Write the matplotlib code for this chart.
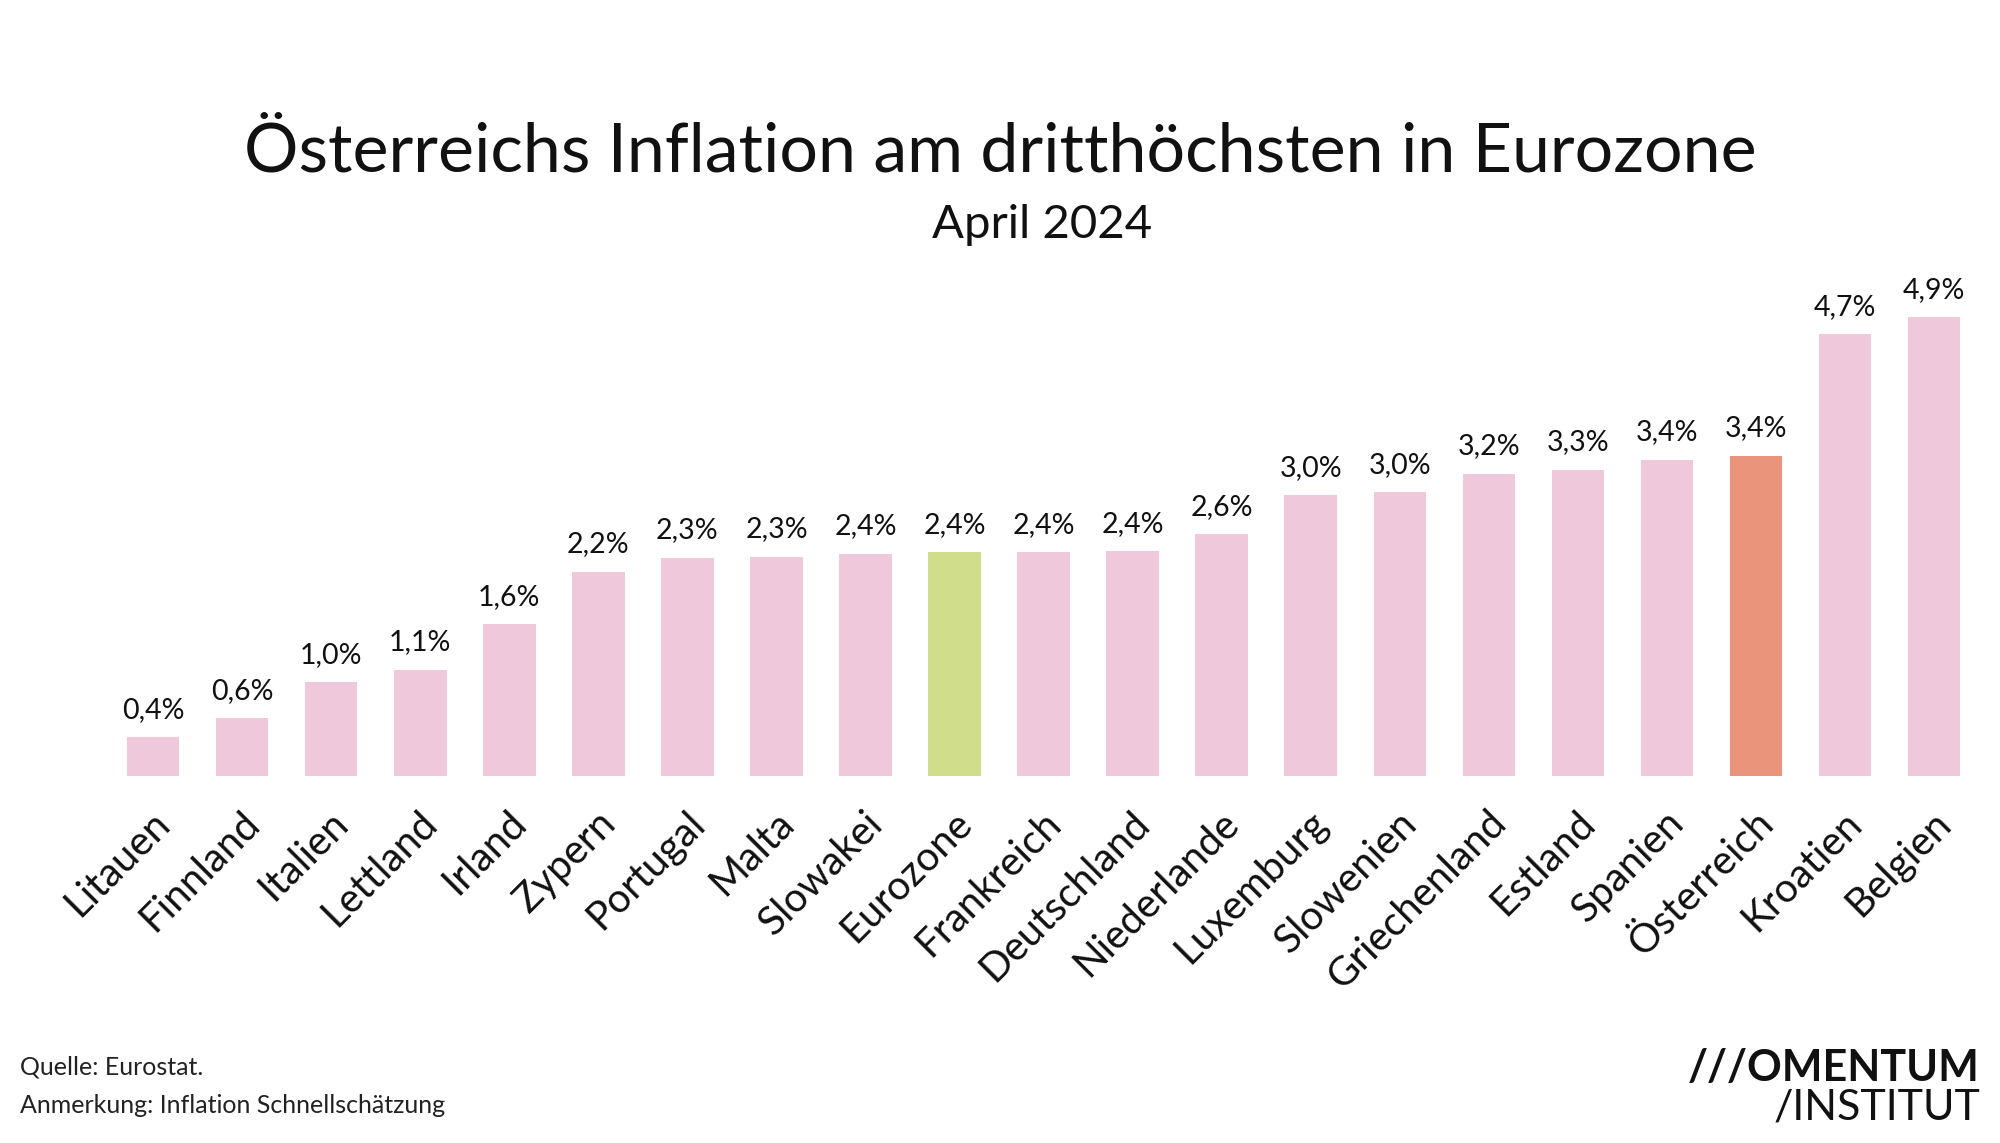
import matplotlib
matplotlib.use("Agg")
import matplotlib.pyplot as plt
from matplotlib.transforms import ScaledTranslation

plt.rcParams['font.family'] = ['Lato', 'DejaVu Sans']

countries = ["Litauen", "Finnland", "Italien", "Lettland", "Irland", "Zypern", "Portugal",
             "Malta", "Slowakei", "Eurozone", "Frankreich", "Deutschland", "Niederlande",
             "Luxemburg", "Slowenien", "Griechenland", "Estland", "Spanien", "Österreich",
             "Kroatien", "Belgien"]
inflation = [0.41, 0.61, 1.00, 1.13, 1.62, 2.18, 2.33, 2.34, 2.37, 2.39, 2.39, 2.40, 2.58,
             3.00, 3.03, 3.23, 3.27, 3.38, 3.42, 4.72, 4.90]
labels = ["0,4%", "0,6%", "1,0%", "1,1%", "1,6%", "2,2%", "2,3%", "2,3%", "2,4%", "2,4%",
          "2,4%", "2,4%", "2,6%", "3,0%", "3,0%", "3,2%", "3,3%", "3,4%", "3,4%", "4,7%", "4,9%"]

PINK = "#F0C8DC"
GREEN = "#D0DE8C"
SALMON = "#EA947C"
colors = [GREEN if c == "Eurozone" else SALMON if c == "Österreich" else PINK for c in countries]

fig = plt.figure(figsize=(20, 11.43), dpi=100)
ax = fig.add_axes([0.0543, 0.3215, 0.935, 0.409])
x = list(range(len(countries)))
ax.bar(x, inflation, width=0.59, color=colors)
ax.set_xlim(-0.5, len(countries) - 0.5)
ax.set_ylim(0, 5)
for s in ax.spines.values():
    s.set_visible(False)
ax.set_yticks([])
ax.set_xticks(x)
ax.set_xticklabels(countries, rotation=45, ha='right', va='center',
                   rotation_mode='anchor', fontsize=29, color='#111111')
ax.tick_params(axis='x', length=0, pad=30)
off = ScaledTranslation(8 / 72, 0, fig.dpi_scale_trans)
for lab in ax.get_xticklabels():
    lab.set_transform(lab.get_transform() + off)

for xi, v, t in zip(x, inflation, labels):
    ax.annotate(t, (xi, v), xytext=(0, 14), textcoords='offset points',
                ha='center', va='baseline', fontsize=20.5, color='#111111')

fig.text(0.5, 0.85, "Österreichs Inflation am dritthöchsten in Eurozone",
         ha='center', va='baseline', fontsize=49, color='#111111')
fig.text(0.521, 0.792, "April 2024", ha='center', va='baseline', fontsize=34,
         fontweight='normal', color='#111111')

fig.text(0.01, 0.0595, "Quelle: Eurostat.", ha='left', va='baseline', fontsize=18,
         fontweight='normal', color='#222222')
fig.text(0.01, 0.0265, "Anmerkung: Inflation Schnellschätzung", ha='left', va='baseline',
         fontsize=18, fontweight='normal', color='#222222')

fig.text(0.99, 0.054, "///OMENTUM", ha='right', va='baseline', fontsize=31,
         fontweight='bold', color='#111111')
fig.text(0.99, 0.0205, "/INSTITUT", ha='right', va='baseline', fontsize=31,
         fontweight='normal', color='#111111')

fig.savefig("out.png", dpi=100, facecolor='white')
